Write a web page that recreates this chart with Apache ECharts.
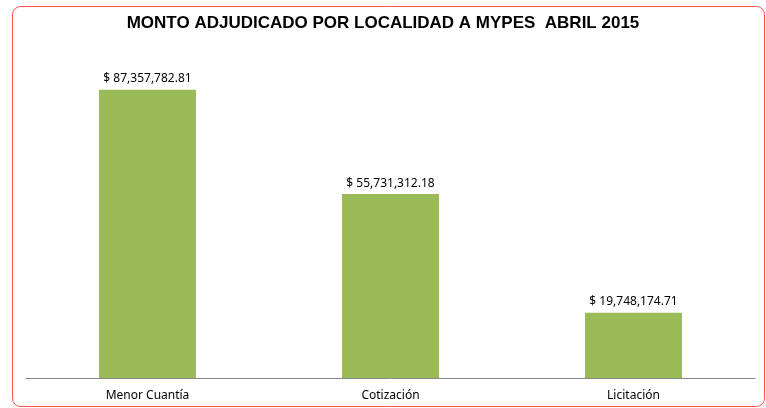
<!DOCTYPE html>
<html><head><meta charset="utf-8">
<script src="https://cdn.jsdelivr.net/npm/echarts@6/dist/echarts.min.js"></script>
<style>html,body{margin:0;padding:0;background:#fff}#c{width:766px;height:408px}</style>
</head><body><div id="c"></div>
<script>
const categories = ['Menor Cuantía', 'Cotización', 'Licitación'];
const values = [87357782.81, 55731312.18, 19748174.71];
const titleText = 'MONTO ADJUDICADO POR LOCALIDAD A MYPES  ABRIL 2015';

function fmt(v){
  return '$ ' + v.toLocaleString('en-US',{minimumFractionDigits:2,maximumFractionDigits:2});
}
const chart = echarts.init(document.getElementById('c'));
chart.setOption({
  animation:false,
  title:{text:titleText,left:'center',top:10,textStyle:{fontFamily:'Liberation Sans Narrow, Liberation Sans',fontWeight:'bold',fontSize:17,color:'#000'}},
  graphic:[{type:'rect',shape:{x:12.5,y:6.5,width:752,height:400,r:8},style:{fill:'none',stroke:'#ff4d4d',lineWidth:1},silent:true}],
  grid:{left:26,right:11,top:48,bottom:30},
  xAxis:{type:'category',data:categories,axisTick:{show:false},
    axisLine:{lineStyle:{color:'#888',width:1}},
    axisLabel:{color:'#000',fontSize:12,fontFamily:'Noto Sans',margin:12}},
  yAxis:{type:'value',min:0,max:100000000,show:false,splitLine:{show:false}},
  series:[{type:'bar',data:values,barWidth:97,itemStyle:{color:'#9BBB59'},
    label:{show:true,position:'top',distance:5,color:'#000',fontSize:12,fontFamily:'Noto Sans',formatter:p=>fmt(p.value)}}]
});
</script></body></html>
